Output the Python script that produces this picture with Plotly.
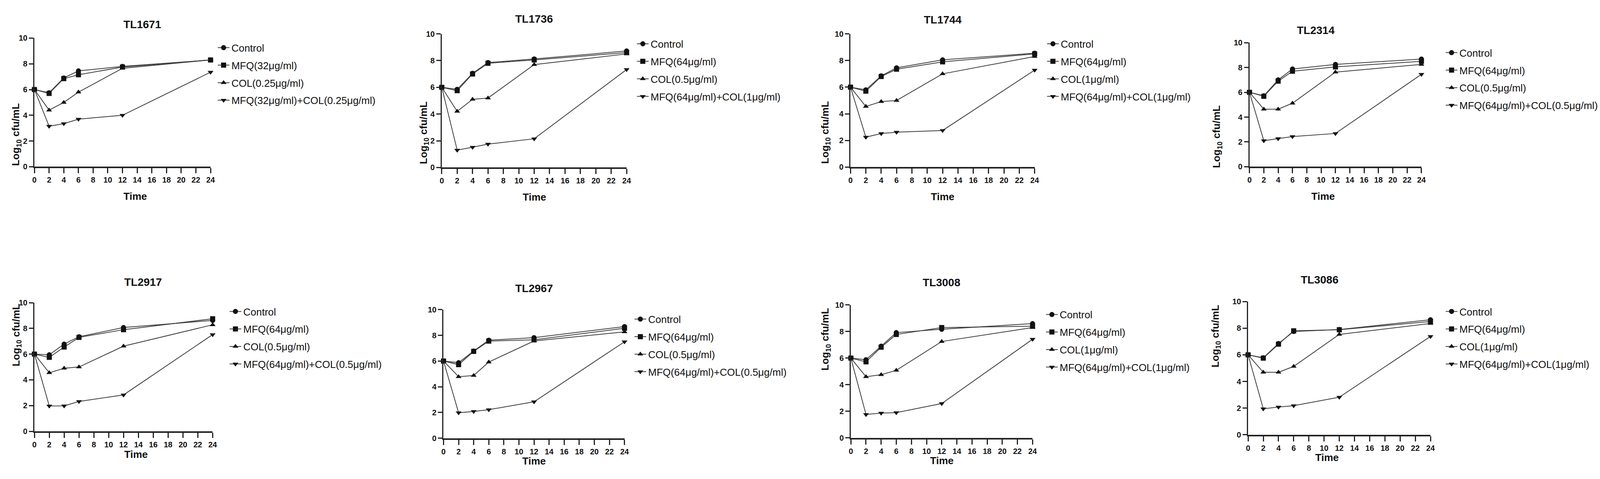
import plotly.graph_objects as go

# reference size in pixels; the panel boxes below are measured in these units
W = 4562
H = 1225

time_h = [0, 2, 4, 6, 12, 24]
strains = ["TL1671", "TL1736", "TL1744", "TL2314", "TL2917", "TL2967", "TL3008", "TL3086"]

# log10 cfu/mL
tl1671_control = [6.0, 5.75, 6.9, 7.45, 7.8, 8.3]
tl1671_mfq = [6.0, 5.7, 6.85, 7.15, 7.75, 8.3]
tl1671_col = [6.0, 4.4, 5.0, 5.8, 7.65, 8.3]
tl1671_combo = [6.0, 3.15, 3.35, 3.7, 4.0, 7.35]

tl1736_control = [6.0, 5.85, 7.05, 7.85, 8.12, 8.72]
tl1736_mfq = [6.0, 5.75, 7.0, 7.8, 8.05, 8.6]
tl1736_col = [6.0, 4.2, 5.1, 5.2, 7.7, 8.5]
tl1736_combo = [6.0, 1.3, 1.52, 1.75, 2.15, 7.33]

tl1744_control = [6.0, 5.8, 6.85, 7.45, 8.05, 8.55]
tl1744_mfq = [6.0, 5.7, 6.8, 7.35, 7.9, 8.5]
tl1744_col = [6.0, 4.55, 4.92, 5.0, 7.0, 8.3]
tl1744_combo = [6.0, 2.25, 2.52, 2.62, 2.75, 7.28]

tl2314_control = [6.0, 5.72, 7.0, 7.88, 8.25, 8.68]
tl2314_mfq = [6.0, 5.68, 6.9, 7.7, 8.05, 8.5]
tl2314_col = [6.0, 4.64, 4.64, 5.12, 7.63, 8.25]
tl2314_combo = [6.0, 2.1, 2.27, 2.43, 2.68, 7.45]

tl2917_control = [6.0, 5.95, 6.78, 7.35, 8.07, 8.62]
tl2917_mfq = [6.0, 5.75, 6.55, 7.3, 7.9, 8.75]
tl2917_col = [6.0, 4.55, 4.9, 5.0, 6.62, 8.28]
tl2917_combo = [6.0, 1.97, 1.98, 2.32, 2.83, 7.52]

tl2967_control = [6.0, 5.87, 6.78, 7.62, 7.82, 8.68]
tl2967_mfq = [6.0, 5.72, 6.75, 7.55, 7.65, 8.55]
tl2967_col = [6.0, 4.78, 4.88, 5.92, 7.56, 8.27]
tl2967_combo = [6.0, 1.98, 2.08, 2.22, 2.83, 7.5]

tl3008_control = [6.0, 5.88, 6.9, 7.92, 8.17, 8.6]
tl3008_mfq = [6.0, 5.72, 6.82, 7.78, 8.3, 8.4]
tl3008_col = [6.0, 4.6, 4.75, 5.08, 7.25, 8.3]
tl3008_combo = [6.0, 1.76, 1.86, 1.9, 2.58, 7.42]

tl3086_control = [6.0, 5.78, 6.85, 7.75, 7.9, 8.63]
tl3086_mfq = [6.0, 5.75, 6.8, 7.8, 7.88, 8.5]
tl3086_col = [6.0, 4.69, 4.69, 5.13, 7.53, 8.35]
tl3086_combo = [6.0, 1.95, 2.08, 2.18, 2.82, 7.38]

legend_1671 = ["Control", "MFQ(32μg/ml)", "COL(0.25μg/ml)", "MFQ(32μg/ml)+COL(0.25μg/ml)"]
legend_1736 = ["Control", "MFQ(64μg/ml)", "COL(0.5μg/ml)", "MFQ(64μg/ml)+COL(1μg/ml)"]
legend_col1 = ["Control", "MFQ(64μg/ml)", "COL(1μg/ml)", "MFQ(64μg/ml)+COL(1μg/ml)"]
legend_col05 = ["Control", "MFQ(64μg/ml)", "COL(0.5μg/ml)", "MFQ(64μg/ml)+COL(0.5μg/ml)"]

data = {
    "TL1671": [tl1671_control, tl1671_mfq, tl1671_col, tl1671_combo],
    "TL1736": [tl1736_control, tl1736_mfq, tl1736_col, tl1736_combo],
    "TL1744": [tl1744_control, tl1744_mfq, tl1744_col, tl1744_combo],
    "TL2314": [tl2314_control, tl2314_mfq, tl2314_col, tl2314_combo],
    "TL2917": [tl2917_control, tl2917_mfq, tl2917_col, tl2917_combo],
    "TL2967": [tl2967_control, tl2967_mfq, tl2967_col, tl2967_combo],
    "TL3008": [tl3008_control, tl3008_mfq, tl3008_col, tl3008_combo],
    "TL3086": [tl3086_control, tl3086_mfq, tl3086_col, tl3086_combo],
}
labels = {
    "TL1671": legend_1671, "TL1736": legend_1736, "TL1744": legend_col1, "TL2314": legend_col05,
    "TL2917": legend_col05, "TL2967": legend_col05, "TL3008": legend_col1, "TL3086": legend_col1,
}

# panel boxes in pixels: left, right, top (y=10), bottom (y=0), title y, legend marker x, legend first row y
panels = [
    (92, 597, 88, 423, 35, 634, 110),
    (1260, 1790, 77, 425, 20, 1836, 100),
    (2432, 2960, 77, 424, 22, 3012, 100),
    (3576, 4069, 100, 423, 50, 4155, 123),
    (92, 603, 777, 1112, 723, 668, 797),
    (1265, 1784, 795, 1130, 740, 1829, 817),
    (2433, 2954, 783, 1129, 725, 3009, 805),
    (3572, 4095, 774, 1121, 717, 4155, 797),
]

symbols = ["circle", "square", "triangle-up", "triangle-down"]
font = "Liberation Sans, Arial, sans-serif"

fig = go.Figure()
layout = {}
annotations = []

for i, strain in enumerate(strains):
    n = i + 1
    left, right, top, bottom, title_y, leg_x, leg_y = panels[i]
    xa = "x" if n == 1 else f"x{n}"
    ya = "y" if n == 1 else f"y{n}"
    lg = "legend" if n == 1 else f"legend{n}"

    for k, vals in enumerate(data[strain]):
        fig.add_trace(go.Scatter(
            x=time_h, y=vals, name=labels[strain][k],
            mode="lines+markers", xaxis=xa, yaxis=ya, legend=lg,
            legendgroup=f"{strain}_{k}",
            line=dict(color="#3c3c3c", width=2),
            marker=dict(symbol=symbols[k], size=13, color="#111111"),
            cliponaxis=False,
        ))

    layout[f"xaxis{n}"] = dict(
        domain=[left / W, right / W], anchor=ya, range=[0, 24],
        tickvals=list(range(0, 25, 2)), ticks="outside", ticklen=13, tickwidth=3,
        tickcolor="#222", showline=True, linewidth=4, linecolor="#222",
        showgrid=False, zeroline=False,
        tickfont=dict(family=font, size=20, color="#111", weight="bold"),
    )
    layout[f"yaxis{n}"] = dict(
        domain=[1 - bottom / H, 1 - top / H], anchor=xa, range=[0, 10],
        tickvals=[0, 2, 4, 6, 8, 10], ticks="outside", ticklen=11, tickwidth=3,
        tickcolor="#222", showline=True, linewidth=3, linecolor="#222",
        showgrid=False, zeroline=False,
        tickfont=dict(family=font, size=20, color="#111", weight="bold"),
    )
    layout[lg] = dict(
        x=(leg_x - 22) / W, xanchor="left",
        y=1 - (leg_y - 21) / H, yanchor="top",
        font=dict(family=font, size=26, color="#111"),
        bgcolor="rgba(0,0,0,0)", tracegroupgap=8,
        itemwidth=30,
    )

    mid_x = (left + right) / 2 / W
    annotations.append(dict(
        text=f"<b>{strain}</b>", x=mid_x, y=1 - title_y / H, xref="paper", yref="paper",
        showarrow=False, font=dict(family=font, size=28, color="#111"),
    ))
    annotations.append(dict(
        text="<b>Time</b>", x=mid_x, y=1 - (bottom + 77) / H, xref="paper", yref="paper",
        showarrow=False, font=dict(family=font, size=26, color="#111"),
    ))
    if strain != "TL2967":
        annotations.append(dict(
            text="<b>Log<sub>10</sub> cfu/mL</b>", x=(left - 72) / W, y=1 - (top + bottom) / 2 / H,
            xref="paper", yref="paper", textangle=-90, showarrow=False,
            font=dict(family=font, size=26, color="#111"),
        ))

fig.update_layout(
    autosize=True, margin=dict(l=0, r=0, t=0, b=0),
    plot_bgcolor="white", paper_bgcolor="white",
    annotations=annotations, **layout,
)

# fill the browser window exactly
fit = (
    "document.body.style.margin='0';"
    "document.body.style.overflow='hidden';"
    "Plotly.Plots.resize(document.getElementById('{plot_id}'));"
)
fig.write_html("out.html", default_width="100vw", default_height="100vh",
               config={"displayModeBar": False}, post_script=fit)
